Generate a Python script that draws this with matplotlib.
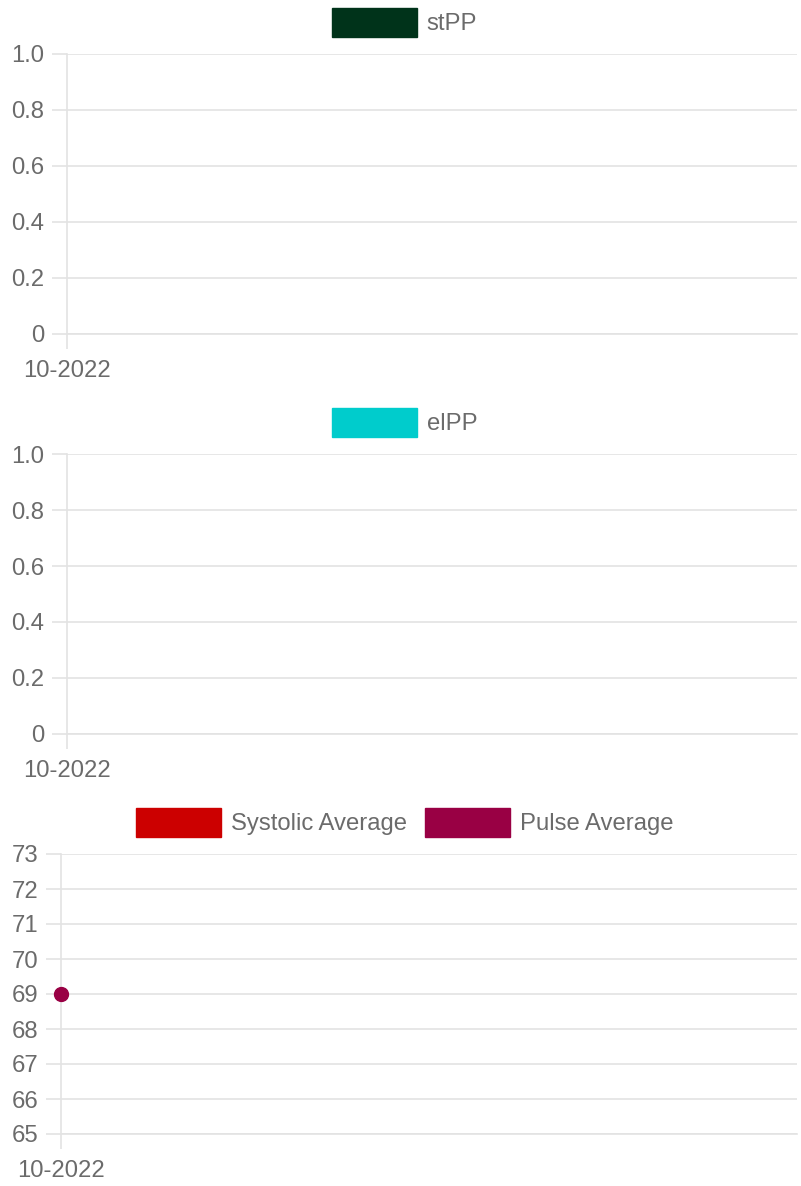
"""Three stacked monthly charts: stPP, elPP and blood pressure averages."""

import matplotlib

matplotlib.use("Agg")
import matplotlib.pyplot as plt
import numpy as np
from matplotlib.patches import Patch

plt.rcParams["font.family"] = ["Liberation Sans", "DejaVu Sans"]

# Data
months = ["10-2022"]
stpp_values = [np.nan]
elpp_values = [np.nan]
systolic_avg = [np.nan]
pulse_avg = [69]

stpp_ticks = [0, 0.2, 0.4, 0.6, 0.8, 1.0]
elpp_ticks = [0, 0.2, 0.4, 0.6, 0.8, 1.0]
bp_ticks = [65, 66, 67, 68, 69, 70, 71, 72, 73]

# Styling
W, H = 801, 1186
TEXT = "#6b6b6b"
GRID = "#e3e3e3"
FS = 17.2
STPP_COLOR = "#00331a"
ELPP_COLOR = "#00cccc"
SYS_COLOR = "#cc0000"
PULSE_COLOR = "#990044"


def _fmt(v):
    if float(v).is_integer() and v != 1.0:
        return f"{int(v)}"
    if isinstance(v, float):
        return f"{v:.1f}"
    return str(v)


def _panel(fig, rect_px, ticks, series, legend_y):
    left, top, right, bottom = rect_px
    ax = fig.add_axes([left / W, 1 - bottom / H, (right - left) / W, (bottom - top) / H])
    x = np.arange(len(months))
    for values, color, _ in series:
        ax.plot(x, values, color=color, marker="o", markersize=10,
                linestyle="-", linewidth=2, clip_on=False, zorder=3)
    ax.set_xlim(0, 1)
    ax.set_ylim(ticks[0], ticks[-1])
    ax.set_xticks(x)
    ax.set_xticklabels(months)
    ax.set_yticks(ticks)
    ax.set_yticklabels([_fmt(t) for t in ticks])
    ax.grid(axis="y", color=GRID, linewidth=1.2)
    ax.set_axisbelow(True)
    for side in ("top", "right"):
        ax.spines[side].set_visible(False)
    for side in ("left", "bottom"):
        ax.spines[side].set_color(GRID)
        ax.spines[side].set_linewidth(1.2)
    ax.tick_params(axis="both", colors=GRID, labelcolor=TEXT, labelsize=FS,
                   length=11, width=1.2)
    ax.tick_params(axis="y", pad=5.5)
    ax.tick_params(axis="x", pad=8)

    handles = [Patch(facecolor=c, edgecolor=c, alpha=1.0) for _, c, _ in series]
    labels = [lab for _, _, lab in series]
    leg = fig.legend(handles, labels, loc="center",
                     bbox_to_anchor=(404.5 / W, 1 - legend_y / H),
                     ncol=len(series), frameon=False, fontsize=FS,
                     handlelength=3.56, handleheight=1.5, handletextpad=0.42,
                     columnspacing=0.75, borderpad=0)
    for t in leg.get_texts():
        t.set_color(TEXT)
    return ax


fig = plt.figure(figsize=(W / 100, H / 100), dpi=100)

_panel(fig, (67, 54, 797, 334), stpp_ticks,
       [(stpp_values, STPP_COLOR, "stPP")], 22.5)
_panel(fig, (67, 454, 797, 734), elpp_ticks,
       [(elpp_values, ELPP_COLOR, "elPP")], 422.5)
_panel(fig, (61, 854, 797, 1134), bp_ticks,
       [(systolic_avg, SYS_COLOR, "Systolic Average"),
        (pulse_avg, PULSE_COLOR, "Pulse Average")], 822.5)

fig.savefig("out.png", dpi=100)
